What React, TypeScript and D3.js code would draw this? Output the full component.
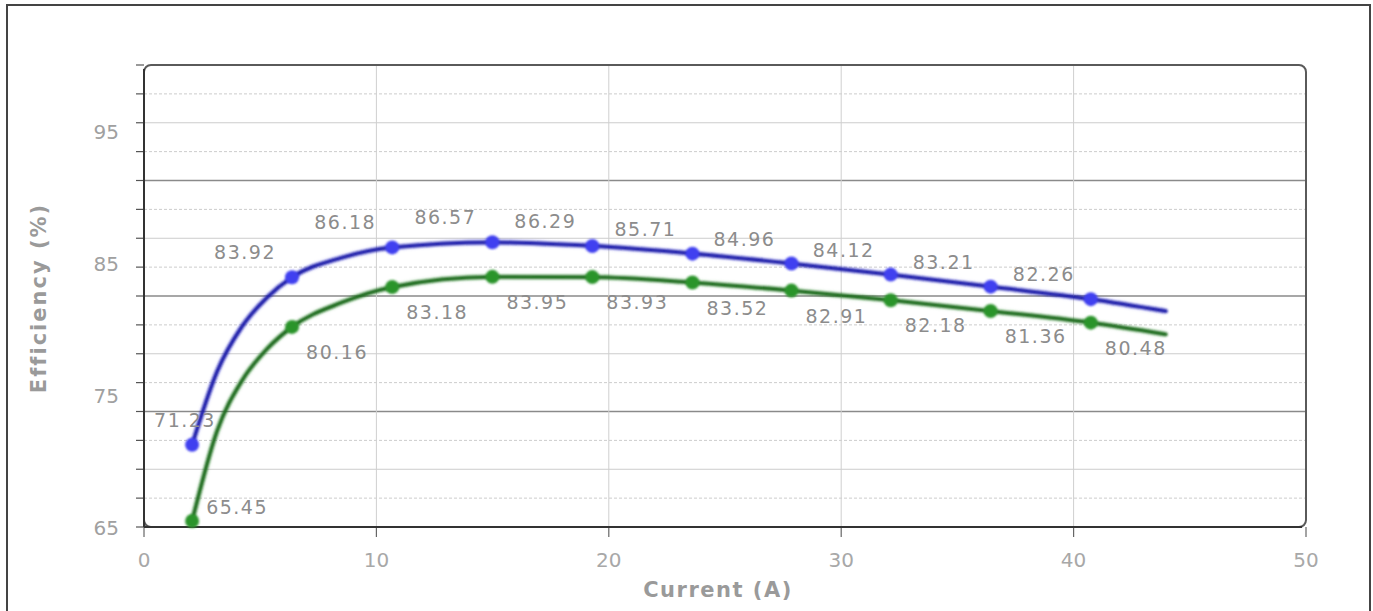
import React, { useEffect, useRef } from "react";
import * as d3 from "d3";

// marker points (labelled)
const markerCurrents = [2.07, 6.37, 10.68, 14.99, 19.29, 23.6, 27.86, 32.13, 36.43, 40.74];
const blueEff = [71.23, 83.92, 86.18, 86.57, 86.29, 85.71, 84.96, 84.12, 83.21, 82.26];
const greenEff = [65.45, 80.16, 83.18, 83.95, 83.93, 83.52, 82.91, 82.18, 81.36, 80.48];

// extra points on the traces (no marker)
const extraCurrents = [3.15, 4.22, 5.3, 8.5, 43.97];
const blueExtra = [76.8, 80.2, 82.4, 85.4, 81.35];
const greenExtra = [72.3, 76.1, 78.5, 82.0, 79.6];

const xTicks = [0, 10, 20, 30, 40, 50];
const yTicks = [65, 75, 85, 95];

const W = 1373;
const H = 611;
const margin = { top: 65, right: 67, bottom: 84, left: 144 };

const App: React.FC = () => {
  const svgRef = useRef<SVGSVGElement | null>(null);

  useEffect(() => {
    if (!svgRef.current) return;
    const svg = d3.select(svgRef.current);
    svg.selectAll("*").remove();

    const left = margin.left;
    const right = W - margin.right;
    const top = margin.top;
    const bottom = H - margin.bottom;

    const x = d3.scaleLinear().domain([0, 50]).range([left, right]);
    const y = d3.scaleLinear().domain([65, 100]).range([bottom, top]);

    const defs = svg.append("defs");
    defs.append("filter").attr("id", "soft")
      .append("feGaussianBlur").attr("stdDeviation", 0.8);
    defs.append("filter").attr("id", "halo")
      .append("feGaussianBlur").attr("stdDeviation", 1.5);

    // outer frame
    svg.append("rect")
      .attr("x", 7).attr("y", 5)
      .attr("width", W - 10).attr("height", H + 20)
      .attr("fill", "none").attr("stroke", "#444").attr("stroke-width", 2);

    // horizontal grid (16 divisions of the plot height)
    const gridVals = d3.range(0, 17).map((k) => 65 + (k * 35) / 16);
    gridVals.forEach((v, k) => {
      if (k === 0 || k === 16) return;
      const major = k % 4 === 0;
      svg.append("line")
        .attr("x1", left).attr("x2", right)
        .attr("y1", y(v)).attr("y2", y(v))
        .attr("stroke", major ? "#8a8a8a" : "#cccccc")
        .attr("stroke-width", major ? 1.3 : 1)
        .attr("stroke-dasharray", major || k % 2 === 0 ? null : "3,2");
    });
    // left ticks
    gridVals.forEach((v) => {
      svg.append("line")
        .attr("x1", left - 8).attr("x2", left)
        .attr("y1", y(v)).attr("y2", y(v))
        .attr("stroke", "#555").attr("stroke-width", 1.2);
    });

    // vertical grid + bottom ticks
    xTicks.forEach((t) => {
      if (t > 0 && t < 50) {
        svg.append("line")
          .attr("x1", x(t)).attr("x2", x(t))
          .attr("y1", top).attr("y2", bottom)
          .attr("stroke", "#cfcfcf").attr("stroke-width", 1);
      }
      svg.append("line")
        .attr("x1", x(t)).attr("x2", x(t))
        .attr("y1", bottom).attr("y2", bottom + 10)
        .attr("stroke", "#666").attr("stroke-width", 1.2);
      svg.append("text")
        .attr("x", x(t)).attr("y", bottom + 40)
        .attr("text-anchor", "middle")
        .attr("font-family", "DejaVu Sans, Verdana, sans-serif")
        .attr("font-size", 20)
        .attr("fill", "#a8a8a8")
        .text(t);
    });

    yTicks.forEach((t) => {
      svg.append("text")
        .attr("x", 119).attr("y", y(t) + 8)
        .attr("text-anchor", "end")
        .attr("font-family", "DejaVu Sans, Verdana, sans-serif")
        .attr("font-size", 20)
        .attr("fill", "#a0a0a0")
        .text(t);
    });

    // plot frame
    svg.append("rect")
      .attr("x", left).attr("y", top)
      .attr("width", right - left).attr("height", bottom - top)
      .attr("rx", 7).attr("ry", 7)
      .attr("fill", "none").attr("stroke", "#5a5a5a").attr("stroke-width", 2);
    svg.append("line")
      .attr("x1", left).attr("x2", left).attr("y1", top + 4).attr("y2", bottom)
      .attr("stroke", "#333").attr("stroke-width", 2);
    svg.append("line")
      .attr("x1", left).attr("x2", right - 4).attr("y1", bottom).attr("y2", bottom)
      .attr("stroke", "#333").attr("stroke-width", 2);

    // axis titles
    svg.append("text")
      .attr("x", 718).attr("y", 597)
      .attr("text-anchor", "middle")
      .attr("font-family", "DejaVu Sans, Verdana, sans-serif")
      .attr("font-size", 21).attr("font-weight", "bold")
      .attr("letter-spacing", 1.5)
      .attr("fill", "#9a9a9a")
      .text("Current (A)");
    svg.append("text")
      .attr("transform", `translate(46,${298}) rotate(-90)`)
      .attr("text-anchor", "middle")
      .attr("font-family", "DejaVu Sans, Verdana, sans-serif")
      .attr("font-size", 21).attr("font-weight", "bold")
      .attr("letter-spacing", 2)
      .attr("fill", "#9a9a9a")
      .text("Efficiency (%)");

    const series = [
      { vals: blueEff, extra: blueExtra, line: "#1a1aa8", halo: "#5a5ae8", dot: "#3f3ff0", dx: -47, dy: -25 },
      { vals: greenEff, extra: greenExtra, line: "#1b6a1b", halo: "#5aa85a", dot: "#2c942c", dx: 45, dy: 25 },
    ];

    const lineGen = d3.line<[number, number]>()
      .x((d) => x(d[0]))
      .y((d) => y(d[1]))
      .curve(d3.curveMonotoneX);

    series.forEach((s) => {
      const pts: [number, number][] = [
        ...markerCurrents.map((c, i) => [c, s.vals[i]] as [number, number]),
        ...extraCurrents.map((c, i) => [c, s.extra[i]] as [number, number]),
      ].sort((a, b) => a[0] - b[0]);

      svg.append("path")
        .attr("d", lineGen(pts) || "")
        .attr("fill", "none").attr("stroke", s.halo).attr("stroke-width", 6)
        .attr("opacity", 0.25).attr("filter", "url(#halo)");
      svg.append("path")
        .attr("d", lineGen(pts) || "")
        .attr("fill", "none").attr("stroke", s.line).attr("stroke-width", 3.8)
        .attr("stroke-linejoin", "round").attr("stroke-linecap", "round")
        .attr("filter", "url(#soft)");

      markerCurrents.forEach((c, i) => {
        svg.append("circle")
          .attr("cx", x(c)).attr("cy", y(s.vals[i]))
          .attr("r", 7)
          .attr("fill", s.dot)
          .attr("filter", "url(#soft)");
      });
    });

    // data labels
    series.forEach((s) => {
      markerCurrents.forEach((c, i) => {
        let lx = x(c) + s.dx;
        let ly = y(s.vals[i]) + s.dy;
        lx = Math.max(lx, left + 41);
        ly = Math.min(ly, bottom - 20);
        svg.append("text")
          .attr("x", lx).attr("y", ly)
          .attr("text-anchor", "middle")
          .attr("dominant-baseline", "central")
          .attr("font-family", "DejaVu Sans, Verdana, sans-serif")
          .attr("font-size", 19)
          .attr("letter-spacing", 1.5)
          .attr("fill", "#8c8c8c")
          .text(s.vals[i].toFixed(2));
      });
    });
  }, []);

  return (
    <div style={{ position: "absolute", left: 0, top: 0, background: "#fff" }}>
      <svg ref={svgRef} width={W} height={H} style={{ display: "block" }}></svg>
    </div>
  );
};

export default App;
